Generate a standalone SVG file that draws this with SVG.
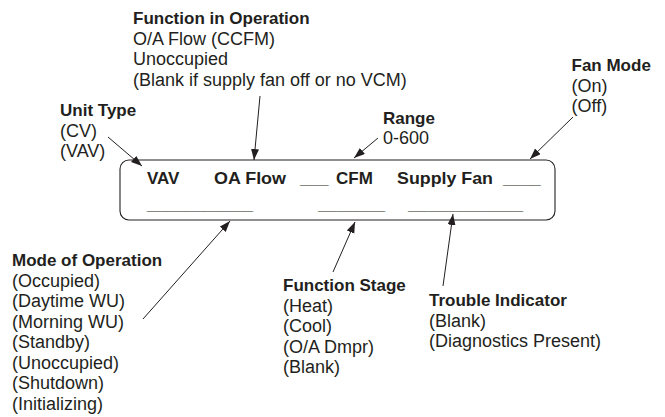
<svg xmlns="http://www.w3.org/2000/svg" width="665" height="417" viewBox="0 0 665 417">
<style>
text{font-family:"Liberation Sans",Arial,Helvetica,sans-serif;fill:#231f20}
.b{font-weight:bold;font-size:17px}
.r{font-size:18px}
.box{fill:#fff;stroke:#231f20;stroke-width:1.1}
.c line{stroke:#231f20;stroke-width:1}
</style>
<defs>
<marker id="ah" markerUnits="userSpaceOnUse" markerWidth="12" markerHeight="9" refX="11" refY="4" orient="auto">
<path d="M0,0 L11,4 L0,8 z" fill="#231f20"/>
</marker>
</defs>
<rect width="665" height="417" fill="#fff"/>

<g id="display">
<rect class="box" x="120" y="160" width="435" height="60" rx="9" ry="9"/>
<text class="b" x="147" y="184">VAV</text>
<text class="b" x="214" y="184" textLength="72" lengthAdjust="spacingAndGlyphs">OA Flow</text>
<text class="b" x="300" y="184">___</text>
<text class="b" x="336" y="184">CFM</text>
<text class="b" x="397" y="184" textLength="96" lengthAdjust="spacingAndGlyphs">Supply Fan</text>
<text class="b" x="503" y="184">____</text>
<text class="b" x="147" y="210" textLength="106" lengthAdjust="spacingAndGlyphs">___________</text>
<text class="b" x="318" y="210" textLength="67" lengthAdjust="spacingAndGlyphs">_______</text>
<text class="b" x="408" y="210" textLength="115" lengthAdjust="spacingAndGlyphs">____________</text>
</g>

<g id="function-in-operation">
<text class="b" x="133" y="24">Function in Operation</text>
<text class="r" x="133" y="44.5">O/A Flow (CCFM)</text>
<text class="r" x="133" y="65">Unoccupied</text>
<text class="r" x="133" y="85.5">(Blank if supply fan off or no VCM)</text>
</g>

<g id="unit-type">
<text class="b" x="60" y="116">Unit Type</text>
<text class="r" x="60" y="136.5">(CV)</text>
<text class="r" x="60" y="157">(VAV)</text>
</g>

<g id="range">
<text class="b" x="383" y="123.5">Range</text>
<text class="r" x="383" y="144">0-600</text>
</g>

<g id="fan-mode">
<text class="b" x="571.5" y="71">Fan Mode</text>
<text class="r" x="571.5" y="91.5">(On)</text>
<text class="r" x="571.5" y="112">(Off)</text>
</g>

<g id="mode-of-operation">
<text class="b" x="12" y="266">Mode of Operation</text>
<text class="r" x="12" y="286.5">(Occupied)</text>
<text class="r" x="12" y="307">(Daytime WU)</text>
<text class="r" x="12" y="327.5">(Morning WU)</text>
<text class="r" x="12" y="348">(Standby)</text>
<text class="r" x="12" y="368.5">(Unoccupied)</text>
<text class="r" x="12" y="389">(Shutdown)</text>
<text class="r" x="12" y="409.5">(Initializing)</text>
</g>

<g id="function-stage">
<text class="b" x="283" y="291">Function Stage</text>
<text class="r" x="283" y="311.5">(Heat)</text>
<text class="r" x="283" y="332">(Cool)</text>
<text class="r" x="283" y="352.5">(O/A Dmpr)</text>
<text class="r" x="283" y="373">(Blank)</text>
</g>

<g id="trouble-indicator">
<text class="b" x="429" y="306">Trouble Indicator</text>
<text class="r" x="429" y="326.5">(Blank)</text>
<text class="r" x="429" y="347">(Diagnostics Present)</text>
</g>

<g id="connectors" class="c">
<line x1="108" y1="137" x2="142" y2="166" marker-end="url(#ah)"/>
<line x1="260" y1="96" x2="254" y2="160" marker-end="url(#ah)"/>
<line x1="378" y1="138" x2="354" y2="158" marker-end="url(#ah)"/>
<line x1="573" y1="117" x2="530" y2="159" marker-end="url(#ah)"/>
<line x1="143" y1="319" x2="230" y2="221" marker-end="url(#ah)"/>
<line x1="333" y1="272" x2="355" y2="222" marker-end="url(#ah)"/>
<line x1="443" y1="286" x2="453" y2="214" marker-end="url(#ah)"/>
</g>
</svg>
